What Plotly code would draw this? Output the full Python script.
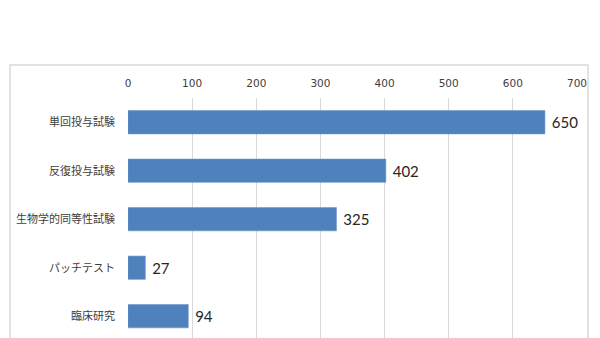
import plotly.graph_objects as go

categories = ["単回投与試験", "反復投与試験", "生物学的同等性試験", "パッチテスト", "臨床研究"]
values = [650, 402, 325, 27, 94]
x_ticks = [0, 100, 200, 300, 400, 500, 600, 700]

font_family = "Noto Sans CJK JP, Noto Sans, sans-serif"

fig = go.Figure(
    go.Bar(
        y=categories,
        x=values,
        orientation="h",
        marker=dict(color="#4f81bd", line=dict(color="#6a95c9", width=0.6)),
        texttemplate=" %{x}",
        textposition="outside",
        textfont=dict(size=15, color="#262626", family="Lato, sans-serif"),
        cliponaxis=False,
    )
)

fig.update_layout(
    width=600,
    height=338,
    margin=dict(l=128, r=23, t=98, b=0),
    paper_bgcolor="white",
    plot_bgcolor="white",
    bargap=0.52,
    showlegend=False,
    font=dict(family=font_family, color="#595959"),
    xaxis=dict(
        side="top",
        range=[0, 700],
        tickvals=x_ticks,
        ticktext=[str(t) for t in x_ticks],
        tickfont=dict(size=10.5, color="#404040", family="DejaVu Sans, sans-serif"),
        showgrid=True,
        gridcolor="#d9d9d9",
        gridwidth=1,
        zeroline=False,
        showline=False,
        ticks="",
        ticklabelstandoff=8,
    ),
    yaxis=dict(
        range=[4.45, -0.5],
        tickfont=dict(size=11, color="#404040"),
        showgrid=False,
        zeroline=False,
        showline=False,
        ticks="",
        ticklabelstandoff=12,
    ),
    shapes=[
        dict(
            type="rect",
            xref="paper",
            yref="paper",
            x0=(10 - 128) / 449,
            x1=(588 - 128) / 449,
            y0=-0.05,
            y1=(338 - 65) / 240,
            line=dict(color="#d9d9d9", width=1.5),
            fillcolor="rgba(0,0,0,0)",
            layer="below",
        )
    ],
)

fig.write_html("out.html")
